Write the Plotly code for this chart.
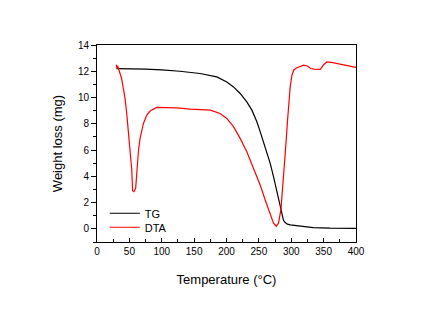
import plotly.graph_objects as go

# TG curve (black)
tg_temp = [30, 50, 75, 100, 128, 159, 185, 200.5, 210.8, 221.1, 231.4, 239.2, 246.9, 252, 257.2, 262.4, 267.5, 272.6, 277.9, 283, 285.6, 288, 290.7, 294, 298.4, 313.9, 334, 360, 400]
tg_val = [12.2, 12.2, 12.17, 12.1, 12.0, 11.83, 11.57, 11.19, 10.81, 10.31, 9.67, 9.04, 8.15, 7.4, 6.63, 5.87, 4.99, 3.97, 2.83, 1.57, 0.93, 0.65, 0.48, 0.36, 0.3, 0.22, 0.1, 0.05, 0.03]

# DTA curve (red)
dta_temp = [30, 31, 32, 35, 38, 40.7, 43.3, 45.9, 48.5, 51, 53.7, 55, 57, 59.7, 61.3, 63.9, 66.5, 69.1, 71.7, 76.9, 82, 92.3, 123, 144, 159, 175, 190, 200.5, 210.8, 221.1, 231.4, 241.7, 252, 259.8, 267.5, 272.6, 276.8, 280.3, 284, 287, 290.7, 294.3, 298.4, 301, 304, 308, 313, 319, 325, 330, 335, 340, 345, 350, 355, 362, 371, 386, 400]
dta_val = [12.5, 12.2, 12.4, 11.9, 11.45, 10.7, 9.93, 8.79, 7.4, 6.13, 4.48, 2.9, 2.83, 3.09, 4.35, 5.87, 6.89, 7.52, 8.03, 8.66, 8.97, 9.25, 9.22, 9.12, 9.09, 9.04, 8.79, 8.41, 7.78, 6.89, 5.87, 4.61, 3.34, 2.2, 1.06, 0.43, 0.2, 0.43, 1.44, 3.21, 5.75, 8.28, 10.81, 11.7, 12.1, 12.25, 12.35, 12.46, 12.4, 12.21, 12.16, 12.18, 12.15, 12.5, 12.71, 12.68, 12.59, 12.46, 12.29]

x_ticks = [0, 50, 100, 150, 200, 250, 300, 350, 400]
y_ticks = [0, 2, 4, 6, 8, 10, 12, 14]

fig = go.Figure()
fig.add_trace(go.Scatter(x=tg_temp, y=tg_val, mode="lines", name="TG",
                         line=dict(color="black", width=1.2), legend="legend"))
fig.add_trace(go.Scatter(x=dta_temp, y=dta_val, mode="lines", name="DTA",
                         line=dict(color="red", width=1.2), legend="legend2"))

fnt = "Liberation Sans, Arial, sans-serif"
leg_common = dict(xanchor="left", yanchor="middle", bgcolor="rgba(0,0,0,0)",
                  font=dict(size=11), itemwidth=30)
fig.update_layout(
    width=435, height=323,
    margin=dict(l=97, r=79, t=45, b=81),
    paper_bgcolor="white", plot_bgcolor="white",
    font=dict(family=fnt, color="black", size=10),
    showlegend=True,
    legend=dict(x=0.03, y=0.146, **leg_common),
    legend2=dict(x=0.03, y=0.075, **leg_common),
    xaxis=dict(range=[0, 400], tickvals=x_ticks, ticktext=[str(v) for v in x_ticks],
               showgrid=False, zeroline=False, showline=True, linecolor="black",
               linewidth=1, mirror=True, ticks="inside", ticklen=4,
               tickcolor="black",
               minor=dict(tickvals=[25, 75, 125, 175, 225, 275, 325, 375],
                          ticks="inside", ticklen=3, tickcolor="black"),
               title=dict(text="Temperature (°C)", font=dict(size=13), standoff=18),
               tickfont=dict(size=10)),
    yaxis=dict(range=[-1, 14], tickvals=y_ticks, ticktext=[str(v) for v in y_ticks],
               showgrid=False, zeroline=False, showline=True, linecolor="black",
               linewidth=1, mirror=True, ticks="outside", ticklen=5,
               tickcolor="black",
               minor=dict(tickvals=[-1, 1, 3, 5, 7, 9, 11, 13],
                          ticks="outside", ticklen=3, tickcolor="black"),
               title=dict(text="Weight loss (mg)", font=dict(size=13), standoff=12),
               tickfont=dict(size=10)),
)

fig.write_html("out.html")
